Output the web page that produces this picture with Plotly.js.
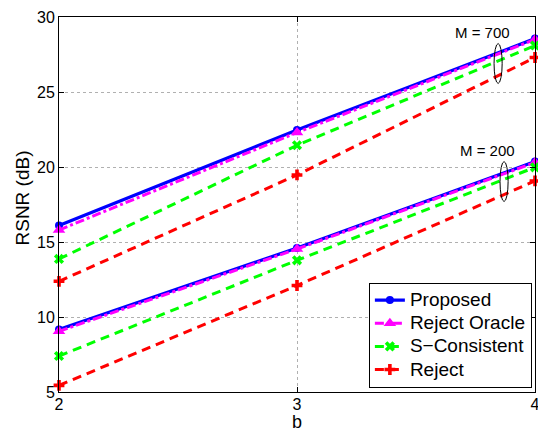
<!DOCTYPE html>
<html>
<head>
<meta charset="utf-8">
<script src="https://cdn.plot.ly/plotly-3.0.1.min.js"></script>
<style>html,body{margin:0;padding:0;background:#fff;}#chart{width:538px;height:432px;}</style>
</head>
<body>
<div id="chart"></div>
<script>
var bValues = [2, 3, 4];
var methods = ["Proposed", "Reject Oracle", "S\u2212Consistent", "Reject"];
var xTitle = "b";
var yTitle = "RSNR (dB)";
// RSNR (dB), M = 700
var proposed700 = [16.1, 22.46, 28.56];
var oracle700 = [15.8, 22.3, 28.5];
var sconsist700 = [13.87, 21.45, 28.1];
var reject700 = [12.38, 19.47, 27.3];
// RSNR (dB), M = 200
var proposed200 = [9.17, 14.6, 20.36];
var oracle200 = [9.05, 14.53, 20.3];
var sconsist200 = [7.4, 13.78, 19.98];
var reject200 = [5.44, 12.1, 19.07];

var styles = [
  {color: "#0000ff", dash: "solid", symbol: "circle", size: 8, width: 3.2},
  {color: "#ff00ff", dash: "dashdot", symbol: "triangle-up", size: 11, width: 3},
  {color: "#00ff00", dash: "9px,6px", symbol: "x", size: 9, width: 3},
  {color: "#ff0000", dash: "9px,6px", symbol: "cross", size: 9, width: 3}
];
var series700 = [proposed700, oracle700, sconsist700, reject700];
var series200 = [proposed200, oracle200, sconsist200, reject200];

var traces = [];
for (var i = 0; i < methods.length; i++) {
  var s = styles[i];
  [series700[i], series200[i]].forEach(function (ys, k) {
    traces.push({
      x: bValues, y: ys, type: "scatter", mode: "lines+markers",
      name: '<span style="font-size:19px">' + methods[i] + '</span>',
      legendgroup: methods[i], showlegend: k === 0,
      line: {color: s.color, dash: s.dash, width: s.width},
      marker: {color: s.color, symbol: s.symbol, size: s.size, line: {width: 0}},
      cliponaxis: false
    });
  });
}

var layout = {
  width: 538, height: 432,
  margin: {l: 59, r: 3, t: 17, b: 40},
  paper_bgcolor: "#fff", plot_bgcolor: "#fff",
  font: {family: "Liberation Sans, Arial, sans-serif", color: "#000", size: 16},
  xaxis: {
    range: [2, 4], tickvals: [2, 3, 4], ticktext: ["2", "3", "4"],
    ticklabeloverflow: "allow", ticklabelstandoff: -2,
    showline: true, linecolor: "#000", linewidth: 1, mirror: "ticks",
    ticks: "inside", ticklen: 5, tickcolor: "#000",
    showgrid: true, gridcolor: "#b0b0b0", griddash: "dot", gridwidth: 1,
    zeroline: false, tickfont: {size: 16}
  },
  yaxis: {
    range: [5, 30], tickvals: [5, 10, 15, 20, 25, 30],
    showline: true, linecolor: "#000", linewidth: 1, mirror: "ticks",
    ticks: "inside", ticklen: 5, tickcolor: "#000",
    showgrid: true, gridcolor: "#b0b0b0", griddash: "dot", gridwidth: 1,
    zeroline: false, tickfont: {size: 16}
  },
  legend: {
    x: 0.651, y: 0.012, xanchor: "left", yanchor: "bottom",
    bgcolor: "#fff", bordercolor: "#000", borderwidth: 1,
    font: {size: 15.5}, tracegroupgap: 0
  },
  shapes: [
    {type: "circle", xref: "x", yref: "y", x0: 3.828, x1: 3.862, y0: 25.57, y1: 28.23,
     line: {color: "#000", width: 1}},
    {type: "circle", xref: "x", yref: "y", x0: 3.853, x1: 3.887, y0: 17.7, y1: 20.36,
     line: {color: "#000", width: 1}}
  ],
  annotations: [
    {x: 3.78, y: 28.94, xref: "x", yref: "y", text: "M = 700", showarrow: false, font: {size: 15}},
    {x: 3.80, y: 21.07, xref: "x", yref: "y", text: "M = 200", showarrow: false, font: {size: 15}},
    {x: 0.5, y: 0, xref: "paper", yref: "paper", text: xTitle, showarrow: false,
     xanchor: "center", yanchor: "middle", yshift: -29.5, font: {size: 18}},
    {x: 0, y: 0.5, xref: "paper", yref: "paper", text: yTitle, showarrow: false, textangle: -90,
     xanchor: "center", yanchor: "middle", xshift: -37, yshift: 6, font: {size: 19}}
  ],
  showlegend: true
};

Plotly.newPlot("chart", traces, layout, {displayModeBar: false, staticPlot: true});
</script>
</body>
</html>
